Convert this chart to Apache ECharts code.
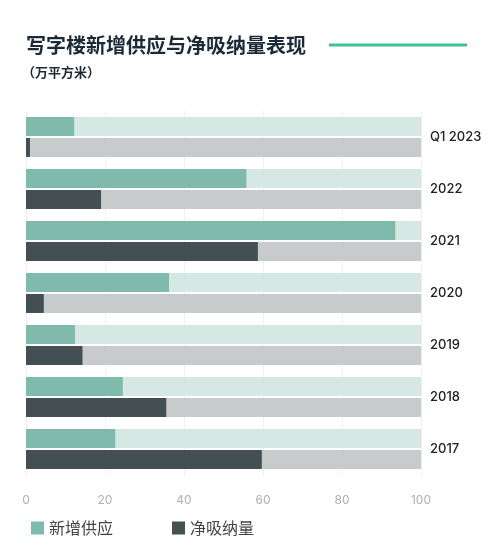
<!DOCTYPE html>
<html>
<head>
<meta charset="utf-8">
<style>
html, body { margin: 0; padding: 0; background: #fff; }
#echart { width: 500px; height: 545px; }
</style>
<script src="https://cdn.jsdelivr.net/npm/echarts@6/dist/echarts.min.js"></script>
</head>
<body>
<div id="echart"></div>
<script>
// Data (万平方米)
var category = ['Q1 2023', '2022', '2021', '2020', '2019', '2018', '2017'];
var supplyData = [12.2, 55.8, 93.5, 36.2, 12.4, 24.5, 22.6];
var absorbData = [1.0, 19.0, 58.7, 4.5, 14.3, 35.5, 59.7];
var xTicks = [0, 20, 40, 60, 80, 100];

var myChart = echarts.init(document.getElementById('echart'));
var fontCN = '"Noto Sans CJK SC", "Noto Sans", sans-serif';

option = {
	animation: false,
	title: [{
		text: '写字楼新增供应与净吸纳量表现',
		left: 21,
		top: 30,
		textStyle: {
			fontFamily: fontCN,
			fontSize: 20,
			fontWeight: 'bold',
			color: '#1c2a38'
		}
	}, {
		text: '（万平方米）',
		left: 17,
		top: 61,
		textStyle: {
			fontFamily: fontCN,
			fontSize: 13,
			fontWeight: 'bold',
			color: '#1c2a38'
		}
	}],
	graphic: [{
		type: 'line',
		shape: { x1: 329, y1: 45, x2: 467, y2: 45 },
		style: { stroke: '#3cc390', lineWidth: 3 }
	}],
	legend: {
		data: ['新增供应', '净吸纳量'],
		left: 26,
		top: 515,
		icon: 'rect',
		itemWidth: 13,
		itemHeight: 13,
		itemGap: 59,
		textStyle: {
			fontFamily: fontCN,
			fontSize: 16,
			color: '#444'
		}
	},
	grid: {
		left: 26,
		right: 79,
		top: 111,
		bottom: 70
	},
	xAxis: {
		type: 'value',
		min: xTicks[0],
		max: xTicks[xTicks.length - 1],
		interval: 20,
		axisLine: { show: false },
		axisTick: { show: false },
		axisLabel: {
			margin: 19,
			color: '#b0b0b0',
			fontSize: 12,
			fontFamily: 'Inter, sans-serif'
		},
		splitLine: {
			lineStyle: { color: '#f0f0f0' }
		}
	},
	yAxis: {
		type: 'category',
		data: category,
		inverse: true,
		position: 'right',
		axisLine: { show: false },
		axisTick: { show: false },
		axisLabel: {
			margin: 9,
			align: 'left',
			color: '#222',
			fontSize: 13,
			fontWeight: 500,
			fontFamily: 'Inter, sans-serif'
		}
	},
	series: [{
		name: '新增供应',
		type: 'bar',
		barWidth: 19,
		barGap: '10%',
		showBackground: true,
		backgroundStyle: { color: '#d6e8e3' },
		itemStyle: { color: '#7fbaad' },
		data: supplyData
	}, {
		name: '净吸纳量',
		type: 'bar',
		barWidth: 19,
		barGap: '10%',
		showBackground: true,
		backgroundStyle: { color: '#c8cbcb' },
		itemStyle: { color: '#434f52' },
		data: absorbData
	}]
};
myChart.setOption(option);
</script>
</body>
</html>
